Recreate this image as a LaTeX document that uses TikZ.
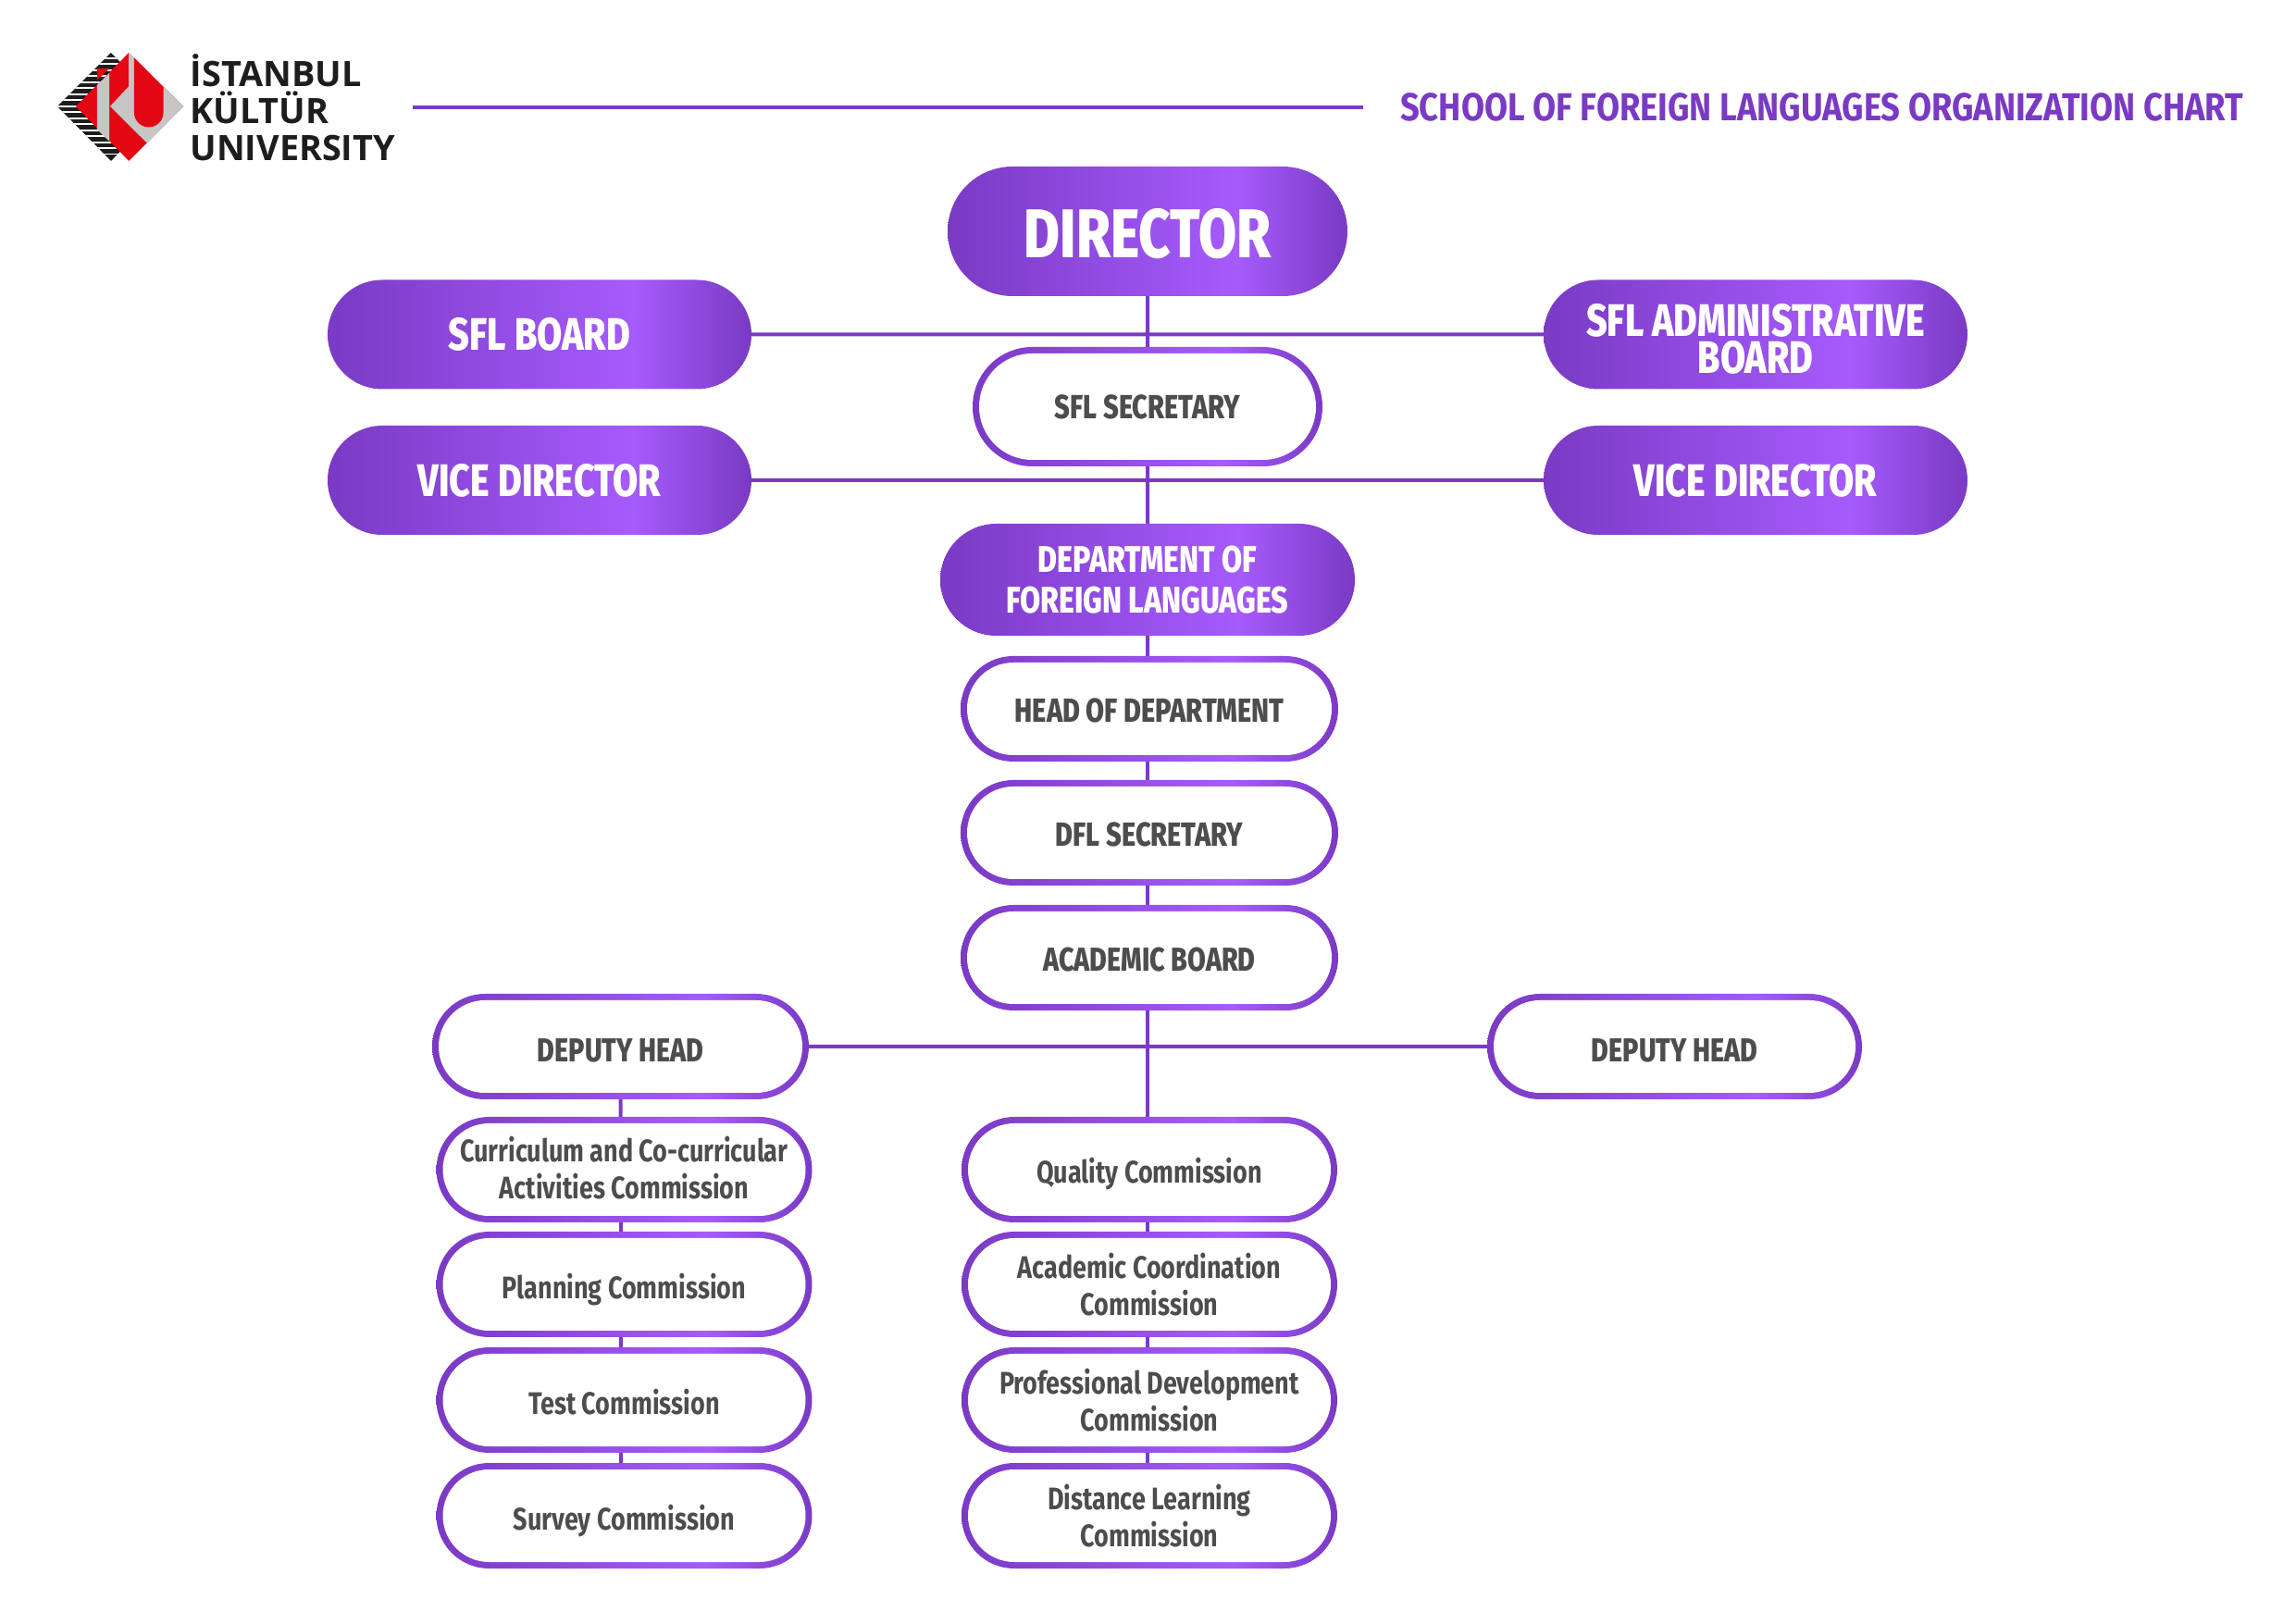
\documentclass[tikz,border=0pt]{standalone}
\usepackage{fontspec}
\usetikzlibrary{positioning, shapes.misc, backgrounds}
\newfontfamily\chartfont[FakeStretch=0.8, BoldFont={Fira Sans ExtraBold}]{Fira Sans}
\newfontfamily\commfont[FakeStretch=0.8]{Fira Sans}
\newfontfamily\titlefont[FakeStretch=0.862]{Fira Sans}
\newfontfamily\logofont{Open Sans}
\definecolor{pilldark}{HTML}{7A3AC4}
\definecolor{pillbright}{HTML}{A65BFC}
\definecolor{pilltext}{HTML}{4D4D4F}
\definecolor{logored}{HTML}{E30613}
\definecolor{logogrey}{HTML}{C6C6C5}
\definecolor{logoblack}{HTML}{1D1D1B}
\pgfdeclarehorizontalshading{pillfade}{100bp}{color(0bp)=(pilldark); color(25bp)=(pilldark); color(61bp)=(pillbright); color(75bp)=(pilldark); color(100bp)=(pilldark)}
\tikzset{
  Pill/.style 2 args={rounded rectangle, shading=pillfade, inner sep=0pt, outer sep=0pt, align=center,
    minimum width=#1cm, minimum height=#2cm},
  FullPill/.style 2 args={Pill={#1}{#2}, text=white},
  EmptyPill/.style 2 args={Pill={#1}{#2}, text=pilltext,
    path picture={\node[rounded rectangle, fill=white, inner sep=0pt, anchor=center, minimum width=#1cm-0.14cm,
      minimum height=#2cm-0.14cm] (inner) at (path picture bounding box.center) {};}},
  Sink/.style={text height=#1, text depth=0pt},
  Link/.style={draw=pilldark, line width=0.04cm},
}
\newcommand{\capsfont}[2]{\fontsize{#1}{#2}\selectfont\chartfont\bfseries}
\newcommand{\namefont}[2]{\fontsize{#1}{#2}\selectfont\commfont\bfseries}
\begin{document}
\begin{tikzpicture}
    \useasboundingbox (0,0) rectangle (24.81,17.54);
    % logo
    \begin{scope}[shift={(0,17.54)}, x=0.01cm, y=-0.01cm]
        \fill[logoblack] (62,115) -- (120,57) -- (178,115) -- (120,174) -- cycle;
        \begin{scope}
            \clip (62,115) -- (120,57) -- (178,115) -- (120,174) -- cycle;
            \foreach \stripe in {62,68.5,...,172}
                \fill[white] (60,\stripe) rectangle (130,\stripe+1.6);
        \end{scope}
        \fill[logored] (105,74) -- (118.3,74) -- (105,86.7) -- cycle;
        \fill[logored] (82,115) -- (139.3,57) -- (198.3,115) -- (139.3,174) -- cycle;
        \fill[logogrey] (105,92) -- (118.3,79) -- (118.3,153) -- (105,140) -- cycle;
        \fill[logogrey] (139.3,57) -- (198.3,115) -- (159.3,155) -- (119,115) -- (139.3,93.3) -- cycle;
        \fill[logored] (145,62.3) -- (145,121.7) arc (180:0:15.83) -- (176.7,94.3) -- cycle;
    \end{scope}
    \node[font=\logofont\bfseries\fontsize{10.75}{11.4}\selectfont, text=logoblack, align=left, anchor=west,
        inner sep=0pt] (logotext) at (2.05,16.38) {İSTANBUL\\KÜLTÜR\\UNIVERSITY};
    \coordinate (ruleleft) at (4.46,16.38);
    \coordinate (ruleright) at (14.73,16.38);
    \node[font=\fontsize{12}{14}\selectfont\titlefont\bfseries, text=pilldark, anchor=east, inner sep=0pt] (title) at (24.25,16.38)
        {SCHOOL OF FOREIGN LANGUAGES ORGANIZATION CHART};
    \draw[Link] (ruleleft) -- (ruleright);
    % upper part
    \node[FullPill={4.32}{1.40}, Sink=0.57cm, font=\capsfont{21.2}{24}] (director) at (12.40,15.04) {DIRECTOR};
    \node[EmptyPill={3.78}{1.29}, font=\capsfont{10.3}{12}, below=0.55cm of director] (sflsecretary) {SFL SECRETARY};
    \node[FullPill={4.58}{1.18}, font=\capsfont{14}{11.3}] (sflboard) at (5.83,13.925) {SFL BOARD};
    \node[FullPill={4.58}{1.18}, text height=0.85cm, font=\capsfont{14}{11.3}] (sfladmin) at (18.97,13.925) {SFL ADMINISTRATIVE\\BOARD};
    \node[FullPill={4.58}{1.18}, font=\capsfont{14}{11.3}] (viceleft) at (5.83,12.35) {VICE DIRECTOR};
    \node[FullPill={4.58}{1.18}, font=\capsfont{14}{11.3}] (viceright) at (18.97,12.35) {VICE DIRECTOR};
    \node[FullPill={4.48}{1.21}, font=\capsfont{11.4}{12.6}, below=0.62cm of sflsecretary] (department) {DEPARTMENT OF\\FOREIGN LANGUAGES};
    \node[EmptyPill={4.08}{1.14}, Sink=0.30cm, font=\capsfont{10.3}{12}, below=0.22cm of department, xshift=0.02cm] (head) {HEAD OF DEPARTMENT};
    \node[EmptyPill={4.08}{1.14}, Sink=0.30cm, font=\capsfont{10.3}{12}, below=0.20cm of head] (dflsecretary) {DFL SECRETARY};
    \node[EmptyPill={4.08}{1.14}, Sink=0.30cm, font=\capsfont{10.2}{12}, below=0.21cm of dflsecretary] (academic) {ACADEMIC BOARD};
    \node[EmptyPill={4.07}{1.14}, Sink=0.34cm, font=\capsfont{10.2}{12}] (deputyleft) at (6.705,6.23) {DEPUTY HEAD};
    \node[EmptyPill={4.05}{1.14}, Sink=0.34cm, font=\capsfont{10.2}{12}] (deputyright) at (18.095,6.23) {DEPUTY HEAD};
    % commissions
    \node[EmptyPill={4.06}{1.14}, Sink=0.30cm, font=\namefont{9.6}{11.3}] (quality) at (12.42,4.90) {Quality Commission};
    \node[EmptyPill={4.06}{1.14}, font=\namefont{9.6}{11.3}, below=0.10cm of quality] (coordination) {Academic Coordination\\Commission};
    \node[EmptyPill={4.06}{1.14}, font=\namefont{9.6}{11.3}, below=0.11cm of coordination] (professional) {Professional Development\\Commission};
    \node[EmptyPill={4.06}{1.14}, font=\namefont{9.6}{11.3}, below=0.11cm of professional] (distance) {Distance Learning\\Commission};
    \node[EmptyPill={4.06}{1.14}, text depth=0.04cm, font=\namefont{9.6}{11.3}] (curriculum) at (6.745,4.90) {Curriculum and Co-curricular\\Activities Commission};
    \node[EmptyPill={4.06}{1.14}, Sink=0.31cm, font=\namefont{9.6}{11.3}, below=0.10cm of curriculum] (planning) {Planning Commission};
    \node[EmptyPill={4.06}{1.14}, Sink=0.31cm, font=\namefont{9.6}{11.3}, below=0.11cm of planning] (test) {Test Commission};
    \node[EmptyPill={4.06}{1.14}, Sink=0.31cm, font=\namefont{9.6}{11.3}, below=0.11cm of test] (survey) {Survey Commission};
    \begin{scope}[on background layer]
        \draw[Link] (director) -- (sflsecretary);
        \draw[Link] (sflboard) -- (sfladmin);
        \draw[Link] (sflsecretary) -- (department);
        \draw[Link] (viceleft) -- (viceright);
        \draw[Link] (department) -- (department |- head.north);
        \draw[Link] (department |- head.south) -- (department |- dflsecretary.north);
        \draw[Link] (department |- dflsecretary.south) -- (department |- academic.north);
        \draw[Link] (department |- academic.south) -- (department |- quality.north);
        \draw[Link] (deputyleft) -- (deputyright);
        \draw[Link] (department |- quality.south) -- (department |- coordination.north);
        \draw[Link] (department |- coordination.south) -- (department |- professional.north);
        \draw[Link] (department |- professional.south) -- (department |- distance.north);
        \draw[Link] (deputyleft) -- (deputyleft |- curriculum.north);
        \draw[Link] (deputyleft |- curriculum.south) -- (deputyleft |- planning.north);
        \draw[Link] (deputyleft |- planning.south) -- (deputyleft |- test.north);
        \draw[Link] (deputyleft |- test.south) -- (deputyleft |- survey.north);
    \end{scope}
\end{tikzpicture}
\end{document}
